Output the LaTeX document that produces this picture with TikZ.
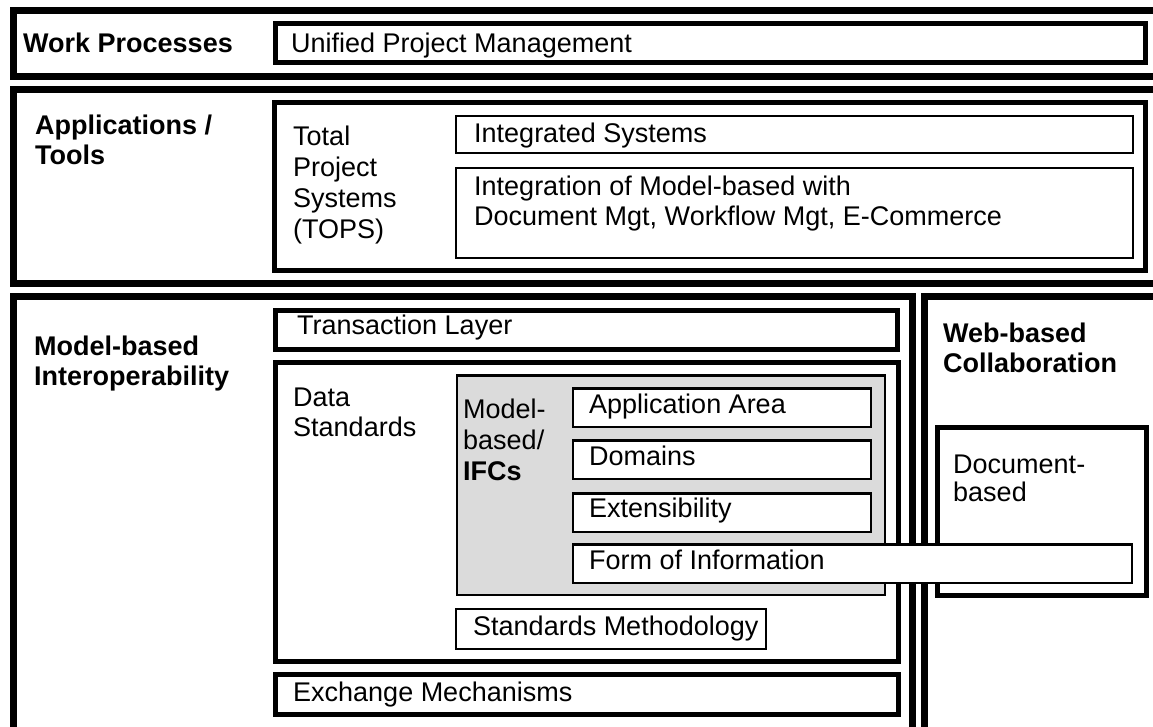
\documentclass[tikz,border=0pt]{standalone}
\usepackage{fontspec}
\setmainfont{Liberation Sans}
% several lines set flush left, baseline on the first line
\newcommand\txtstack[1]{\begin{tabular}[t]{@{}l@{}}#1\end{tabular}}
\begin{document}
\begin{tikzpicture}[x=1pt,y=-1pt,
  heavy/.style={draw=black, line width=7pt},
  medium/.style={draw=black, line width=5pt},
  light/.style={draw=black, line width=2.5pt},
  lbl/.style={anchor=base west, inner sep=0pt, font=\fontsize{27}{30}\selectfont},
  head/.style={lbl, font=\fontsize{27}{30}\selectfont\bfseries}]
\useasboundingbox (0,0) rectangle (1153,726);
\clip (0,0) rectangle (1153,726);

% ---- outer bands
\draw[heavy] (13.5,10.7) rectangle (1175,76);
\draw[heavy] (13.5,89.5) rectangle (1175,283.5);
\draw[heavy] (13.5,296.5) rectangle (912,750);
\draw[heavy] (924.5,296.5) rectangle (1175,750);

% ---- work processes
\draw[medium] (275,23) rectangle (1145.5,62.5);
\node[head] (wp) at (23,52) {Work Processes};
\node[lbl] (upm) at (291,52) {Unified Project Management};

% ---- applications / tools
\draw[medium] (274.7,102.5) rectangle (1145.5,270.5);
\draw[light] (456,116) rectangle (1133,153);
\draw[light] (456,168) rectangle (1133,258);
\node[head] (apps) at (35,134) {\txtstack{Applications /\\Tools}};
\node[lbl,font=\fontsize{27}{31}\selectfont] (tops) at (293,145) {\txtstack{Total\\Project\\Systems\\(TOPS)}};
\node[lbl] (intsys) at (474,142) {Integrated Systems};
\node[lbl] (integ) at (474,195) {\txtstack{Integration of Model-based with\\Document Mgt, Workflow Mgt, E-Commerce}};

% ---- model-based interoperability
\draw[medium] (275,310.5) rectangle (897,349.5);
\draw[medium] (275,362.5) rectangle (898,661.5);
\draw[medium] (275,674.5) rectangle (898,714);
\node[head] (mbi) at (34,355) {\txtstack{Model-based\\Interoperability}};
\node[lbl] (trans) at (297,334) {Transaction Layer};
\node[lbl] (data) at (293,406) {\txtstack{Data\\Standards}};
\node[lbl] (exch) at (293,701) {Exchange Mechanisms};

% IFC block
\draw[light, fill=black!14] (457,375.5) rectangle (885,595);
\node[lbl,font=\fontsize{27}{31}\selectfont] (ifc) at (463,418) {\txtstack{Model-\\based/\\\textbf{IFCs}}};
\draw[light, fill=white] (573,388.5) rectangle (871,427);
\draw[light, fill=white] (573,440.5) rectangle (871,479);
\draw[light, fill=white] (573,493.5) rectangle (871,532);
\node[lbl] (area) at (589,413) {Application Area};
\node[lbl] (dom) at (589,465) {Domains};
\node[lbl] (ext) at (589,517) {Extensibility};
\draw[light, fill=white] (456,609) rectangle (766,649);
\node[lbl] (meth) at (473,635) {Standards Methodology};

% ---- web-based collaboration
\node[head] (web) at (943,342) {\txtstack{Web-based\\Collaboration}};
\draw[medium] (937.5,427.5) rectangle (1146,595.5);
\node[lbl,font=\fontsize{27}{28}\selectfont] (doc) at (953,473) {\txtstack{Document-\\based}};

% form of information spans both columns
\draw[light, fill=white] (573,544.5) rectangle (1132,583);
\node[lbl] (form) at (589,569) {Form of Information};
\end{tikzpicture}
\end{document}
